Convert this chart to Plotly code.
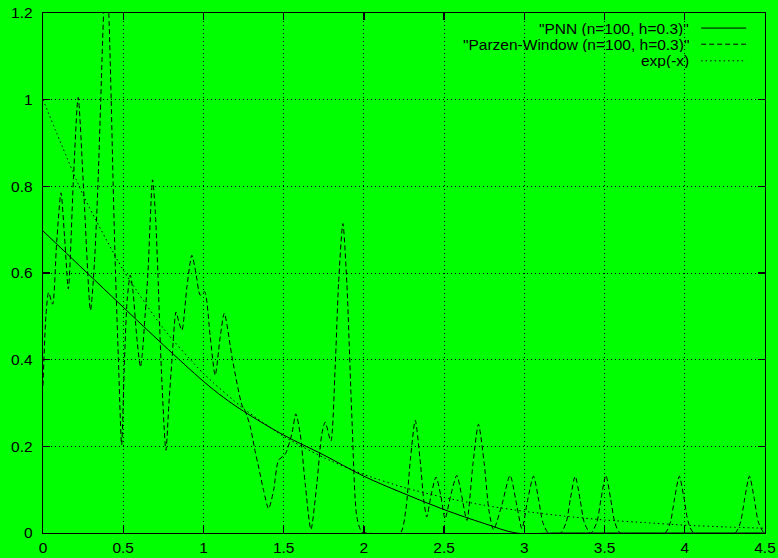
import plotly.graph_objects as go

# ---------------- data ----------------
PNN_X = [0.0, 0.25, 0.5, 0.75, 1.0, 1.125, 1.25, 1.5, 1.75, 2.0, 2.25, 2.5, 2.75, 2.95, 3.2, 4.5]
PNN_Y = [0.697, 0.609, 0.521, 0.434, 0.350, 0.313, 0.281, 0.226, 0.180, 0.131, 0.091, 0.054, 0.022, 0.0, 0.0, 0.0]

EXP_X = [0.0, 0.25, 0.5, 0.75, 1.0, 1.25, 1.5, 1.75, 2.0, 2.25, 2.5, 2.75, 3.0,
         3.25, 3.5, 3.75, 4.0, 4.25, 4.5]
EXP_Y = [1.0, 0.78, 0.607, 0.472, 0.368, 0.287, 0.223, 0.174, 0.135, 0.105, 0.082,
         0.064, 0.050, 0.039, 0.030, 0.024, 0.018, 0.014, 0.011]

PARZEN_X = [0.000, 0.018, 0.035, 0.060, 0.085, 0.112, 0.135, 0.158, 0.190, 0.219,
            0.255, 0.296, 0.320, 0.342, 0.360, 0.378, 0.395, 0.410, 0.425, 0.4375,
            0.452, 0.470, 0.490, 0.508, 0.525, 0.544, 0.560, 0.585, 0.607, 0.618,
            0.636, 0.654, 0.683, 0.700, 0.716, 0.735, 0.766, 0.785, 0.804, 0.829,
            0.848, 0.866, 0.897, 0.928, 0.953, 0.980, 1.007, 1.042, 1.073, 1.105,
            1.130, 1.181, 1.240, 1.262, 1.292, 1.323, 1.344, 1.375, 1.406, 1.437,
            1.468, 1.510, 1.551, 1.576, 1.603, 1.634, 1.670, 1.707, 1.738, 1.759,
            1.794, 1.821, 1.842, 1.869, 1.894, 1.925, 1.956, 1.987, 2.020, 2.226,
            2.260, 2.290, 2.320, 2.350, 2.375, 2.392, 2.420, 2.450, 2.480, 2.506,
            2.540, 2.579, 2.610, 2.642, 2.680, 2.714, 2.750, 2.780, 2.808, 2.860,
            2.911, 2.950, 2.985, 3.020, 3.057, 3.090, 3.115, 3.150, 3.227, 3.262,
            3.287, 3.317, 3.347, 3.372, 3.407, 3.418, 3.453, 3.478, 3.508, 3.538,
            3.563, 3.598, 3.876, 3.911, 3.936, 3.966, 3.996, 4.021, 4.056, 4.313,
            4.348, 4.373, 4.403, 4.433, 4.458, 4.493, 4.500]
PARZEN_Y = [0.34, 0.50, 0.555, 0.528, 0.67, 0.785, 0.68, 0.563, 0.82, 1.005,
            0.78, 0.514, 0.62, 0.80, 1.00, 1.20, 1.30, 1.20, 1.00, 0.80,
            0.60, 0.40, 0.203, 0.40, 0.54, 0.595, 0.56, 0.45, 0.383, 0.41,
            0.50, 0.60, 0.815, 0.74, 0.60, 0.40, 0.191, 0.30, 0.40, 0.510,
            0.485, 0.468, 0.568, 0.641, 0.600, 0.549, 0.557, 0.454, 0.364, 0.454,
            0.507, 0.400, 0.295, 0.280, 0.245, 0.187, 0.152, 0.098, 0.056, 0.098,
            0.168, 0.182, 0.229, 0.275, 0.229, 0.114, 0.008, 0.114, 0.229, 0.256,
            0.212, 0.383, 0.575, 0.714, 0.575, 0.268, 0.037, 0.002, 0.0, 0.0,
            0.05, 0.17, 0.26, 0.17, 0.07, 0.037, 0.09, 0.129, 0.085, 0.033,
            0.085, 0.133, 0.085, 0.029, 0.16, 0.251, 0.16, 0.05, 0.008, 0.065,
            0.133, 0.07, 0.01, 0.075, 0.131, 0.075, 0.025, 0.0, 0.0, 0.026,
            0.079, 0.131, 0.079, 0.026, 0.0, 0.0, 0.026, 0.079, 0.133, 0.079,
            0.026, 0.0, 0.0, 0.026, 0.079, 0.131, 0.079, 0.026, 0.0, 0.0,
            0.026, 0.079, 0.131, 0.079, 0.026, 0.0, 0.0]

NAMES = ['"PNN (n=100, h=0.3)"', '"Parzen-Window (n=100, h=0.3)"', 'exp(-x)']
X_TICKS = [0, 0.5, 1, 1.5, 2, 2.5, 3, 3.5, 4, 4.5]
Y_TICKS = [0, 0.2, 0.4, 0.6, 0.8, 1.0, 1.2]

FONT = "Liberation Sans, Arial, Helvetica, sans-serif"
GREEN = "#00ff00"
DASHES = ["solid", "5px,3px", "1.5px,3px"]

fig = go.Figure()
fig.add_trace(go.Scatter(x=PNN_X, y=PNN_Y, mode="lines", name=NAMES[0],
                         line=dict(color="black", width=1, shape="spline", smoothing=1.0)))
fig.add_trace(go.Scatter(x=PARZEN_X, y=PARZEN_Y, mode="lines", name=NAMES[1],
                         line=dict(color="black", width=1, dash=DASHES[1],
                                   shape="spline", smoothing=0.7)))
fig.add_trace(go.Scatter(x=EXP_X, y=EXP_Y, mode="lines", name=NAMES[2],
                         line=dict(color="black", width=1, dash=DASHES[2],
                                   shape="spline", smoothing=0.6)))

axis_common = dict(
    showline=True, linecolor="black", linewidth=1.3, mirror="ticks",
    ticks="inside", ticklen=7, tickwidth=1.3, tickcolor="black",
    showgrid=True, gridcolor="black", gridwidth=1, griddash="1px,3px",
    zeroline=False, automargin=False,
    tickfont=dict(family=FONT, size=15.5, color="black"),
)
fig.update_xaxes(range=[0, 4.5], tickvals=X_TICKS,
                 ticktext=[f"{v:g}" for v in X_TICKS], **axis_common)
fig.update_yaxes(range=[0, 1.2], tickvals=Y_TICKS, ticklabelstandoff=6,
                 ticktext=[f"{v:g}" for v in Y_TICKS], **axis_common)

# gnuplot-style legend: right-aligned text with line sample to its right
row_y = [0.971, 0.940, 0.908]
for name, yy, dsh in zip(NAMES, row_y, DASHES):
    fig.add_annotation(x=0.896, y=yy, xref="paper", yref="paper", text=name,
                       showarrow=False, xanchor="right", yanchor="middle",
                       height=15, borderpad=0,
                       font=dict(family=FONT, size=15.5, color="black"))
    fig.add_shape(type="line", xref="paper", yref="paper", x0=0.9115, x1=0.974,
                  y0=yy, y1=yy, line=dict(color="black", width=1, dash=dsh))

fig.update_layout(
    width=778, height=558, showlegend=False, hovermode=False,
    paper_bgcolor=GREEN, plot_bgcolor=GREEN,
    margin=dict(l=43, r=13, t=13, b=25),
    font=dict(family=FONT, size=15.5, color="black"),
)

fig.write_html("out.html",
               config={"displayModeBar": False, "staticPlot": True},
               post_script="document.body.style.margin='0';"
                           "document.body.style.overflow='hidden';")
